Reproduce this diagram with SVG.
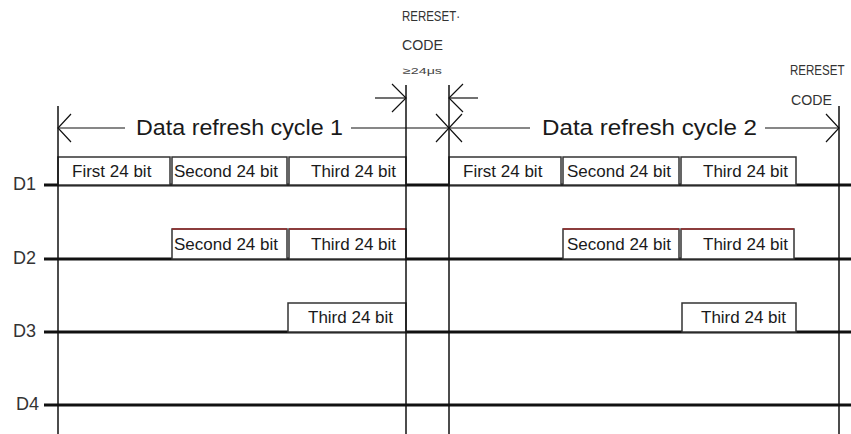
<svg xmlns="http://www.w3.org/2000/svg" width="851" height="434" viewBox="0 0 851 434">
<style>
.bg{fill:#fff}
.row{stroke:#111;stroke-width:3}
.vl{stroke:#111;stroke-width:1.5}
.dim{stroke:#111;stroke-width:1.2;fill:none}
.box{fill:#fff;stroke:#333;stroke-width:1.5}
.red{stroke:#9a2f2f;stroke-width:1.5}
.bt{font-family:"Liberation Sans",Arial,sans-serif;font-size:17px;fill:#1a1a1a}
.lbl{font-family:"Liberation Sans",Arial,sans-serif;font-size:18px;fill:#333}
.cyc{font-family:"Liberation Sans",Arial,sans-serif;font-size:22px;fill:#1a1a1a}
.rc{font-family:"Liberation Sans",Arial,sans-serif;font-size:15px;fill:#333}
.sm{font-family:"Liberation Sans",Arial,sans-serif;font-size:9px;fill:#444}
</style>
<rect class="bg" x="0" y="0" width="851" height="434"/>

<g id="signal-lines">
  <line class="row" x1="44" y1="185" x2="851" y2="185"/>
  <line class="row" x1="44" y1="259" x2="851" y2="259"/>
  <line class="row" x1="44" y1="332" x2="851" y2="332"/>
  <line class="row" x1="44" y1="405" x2="851" y2="405"/>
</g>

<g id="row-labels">
  <text class="lbl" x="13" y="190">D1</text>
  <text class="lbl" x="13" y="264">D2</text>
  <text class="lbl" x="13" y="337">D3</text>
  <text class="lbl" x="16" y="410">D4</text>
</g>

<g id="d1-cycle1">
  <rect class="box" x="58" y="157" width="112" height="28"/>
  <text class="bt" x="72" y="177">First 24 bit</text>
  <rect class="box" x="172" y="157" width="115" height="28"/>
  <text class="bt" x="174" y="177">Second 24 bit</text>
  <rect class="box" x="289" y="157" width="117" height="28"/>
  <text class="bt" x="311" y="177">Third 24 bit</text>
</g>
<g id="d2-cycle1">
  <rect class="box" x="172" y="229" width="115" height="30"/>
  <line class="red" x1="172" y1="229" x2="287" y2="229"/>
  <text class="bt" x="174" y="250">Second 24 bit</text>
  <rect class="box" x="289" y="229" width="117" height="30"/>
  <line class="red" x1="289" y1="229" x2="406" y2="229"/>
  <text class="bt" x="311" y="250">Third 24 bit</text>
</g>
<g id="d3-cycle1">
  <rect class="box" x="288" y="303" width="118" height="29"/>
  <text class="bt" x="308" y="323">Third 24 bit</text>
</g>

<g id="d1-cycle2">
  <rect class="box" x="449" y="157" width="112" height="28"/>
  <text class="bt" x="463" y="177">First 24 bit</text>
  <rect class="box" x="563" y="157" width="116" height="28"/>
  <text class="bt" x="567" y="177">Second 24 bit</text>
  <rect class="box" x="681" y="157" width="115" height="28"/>
  <text class="bt" x="703" y="177">Third 24 bit</text>
</g>
<g id="d2-cycle2">
  <rect class="box" x="563" y="229" width="116" height="30"/>
  <line class="red" x1="563" y1="229" x2="679" y2="229"/>
  <text class="bt" x="567" y="250">Second 24 bit</text>
  <rect class="box" x="681" y="229" width="113" height="30"/>
  <line class="red" x1="681" y1="229" x2="794" y2="229"/>
  <text class="bt" x="703" y="250">Third 24 bit</text>
</g>
<g id="d3-cycle2">
  <rect class="box" x="682" y="303" width="114" height="29"/>
  <text class="bt" x="701" y="323">Third 24 bit</text>
</g>

<g id="connectors">
  <line class="vl" x1="58" y1="106" x2="58" y2="434"/>
  <line class="vl" x1="406" y1="85" x2="406" y2="434"/>
  <line class="vl" x1="449" y1="85" x2="449" y2="434"/>
  <line class="vl" x1="839" y1="106" x2="839" y2="434"/>
  <line class="dim" x1="58" y1="128" x2="125" y2="128"/>
  <polyline class="dim" points="71,114 58,128 71,142"/>
  <line class="dim" x1="351" y1="128" x2="449" y2="128"/>
  <polyline class="dim" points="436,114 449,128 436,142"/>
  <line class="dim" x1="449" y1="128" x2="530" y2="128"/>
  <polyline class="dim" points="462,114 449,128 462,142"/>
  <line class="dim" x1="765" y1="128" x2="839" y2="128"/>
  <polyline class="dim" points="826,114 839,128 826,142"/>
  <line class="dim" x1="375" y1="98" x2="406" y2="98"/>
  <polyline class="dim" points="392,84 406,98 392,112"/>
  <line class="dim" x1="449" y1="98" x2="478" y2="98"/>
  <polyline class="dim" points="463,84 449,98 463,112"/>
</g>

<g id="cycle-labels">
  <text class="cyc" x="136" y="135" textLength="207" lengthAdjust="spacingAndGlyphs">Data refresh cycle 1</text>
  <text class="cyc" x="542" y="135" textLength="215" lengthAdjust="spacingAndGlyphs">Data refresh cycle 2</text>
</g>

<g id="reset-labels">
  <text class="rc" x="402" y="21" textLength="58" lengthAdjust="spacingAndGlyphs">RERESET·</text>
  <text class="rc" x="402" y="50" textLength="41" lengthAdjust="spacingAndGlyphs">CODE</text>
  <text class="sm" x="403" y="74" textLength="39" lengthAdjust="spacingAndGlyphs">≥24μs</text>
  <text class="rc" transform="translate(790,75) scale(0.77,1)" x="0" y="0">RERESET</text>
  <text class="rc" x="791" y="105" textLength="41" lengthAdjust="spacingAndGlyphs">CODE</text>
</g>
</svg>
